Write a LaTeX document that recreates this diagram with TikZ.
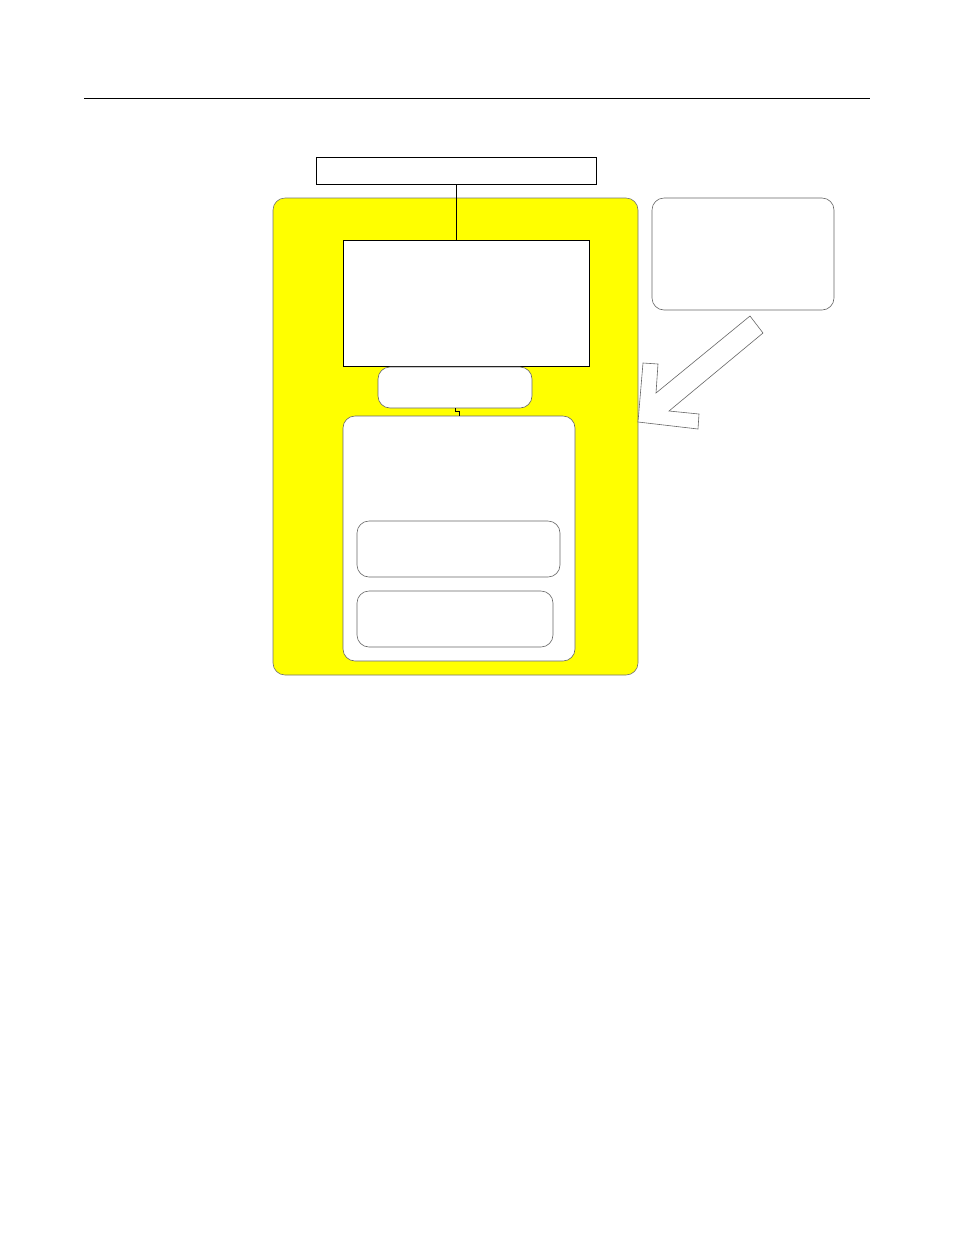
\documentclass[tikz,border=0pt]{standalone}
\usepackage{tikz}
\usetikzlibrary{arrows.meta,positioning,calc}
\definecolor{regionyellow}{RGB}{255,255,0}
\tikzset{
  >=Stealth,
  every picture/.append style={line width=0.6pt},
  every node/.append style={font=\footnotesize},
}
\tikzset{
  plainbox/.style={draw=black, line width=0.9pt, fill=white, anchor=north west, inner sep=0pt, outer sep=0pt},
  roundbox/.style={draw=black!60, line width=0.6pt, fill=white, rounded corners=12pt, anchor=north west, inner sep=0pt, outer sep=0pt},
  lane/.style={draw=black!55, line width=0.6pt, fill=regionyellow, rounded corners=12pt, anchor=north west, inner sep=0pt, outer sep=0pt},
  link/.style={draw=black, line width=0.9pt}
}

\begin{document}
\begin{tikzpicture}[x=1pt, y=-1pt]
\useasboundingbox (0,0) rectangle (954,1235);
\draw[line width=0.8pt] (84,98) -- (870,98);

\node[plainbox, minimum width=280pt, minimum height=27pt] (topbox) at (316,157) {};
\node[lane, minimum width=365pt, minimum height=477pt] (region) at (273,198) {};
\node[plainbox, minimum width=246pt, minimum height=126pt] (core) at (343,240) {};
\node[roundbox, minimum width=154pt, minimum height=41pt] (select) at (378,367) {};
\node[roundbox, minimum width=232pt, minimum height=245pt] (lower) at (343,416) {};
\node[roundbox, minimum width=203pt, minimum height=56pt] (partA) at (357,521) {};
\node[roundbox, minimum width=196pt, minimum height=56pt] (partB) at (357,591) {};
\node[roundbox, minimum width=182pt, minimum height=112pt] (note) at (652,198) {};

\draw[link] (topbox.south) -- (topbox.south |- core.north);
\draw[line width=0.8pt] (select.south) -- ++(0,3) -| (lower.north);

% hollow arrow from the note towards the region
\draw[draw=black!60, fill=white, line width=0.6pt]
  (750,316) -- (763,333) -- (669,411) -- (699,414) -- (698,429)
  -- (638,422) -- (643,363) -- (658,364) -- (656,393) -- cycle;
\end{tikzpicture}
\end{document}
